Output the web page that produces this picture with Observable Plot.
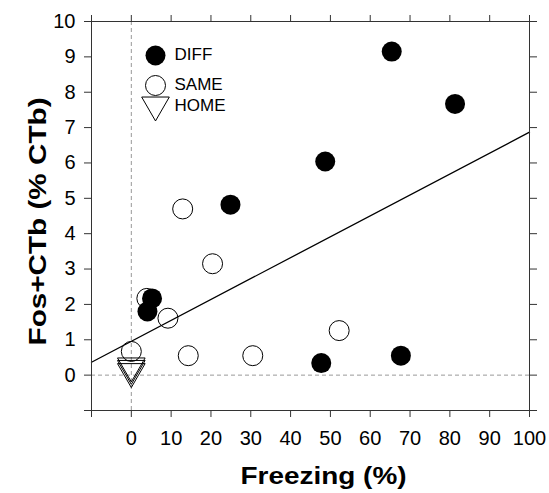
<!DOCTYPE html>
<html>
<head>
<meta charset="utf-8">
<script src="https://cdn.jsdelivr.net/npm/d3@7"></script>
<script src="https://cdn.jsdelivr.net/npm/@observablehq/plot@0.6"></script>
<style>
  html, body { margin: 0; padding: 0; background: #fff; overflow: hidden; }
  #chart svg { display: block; }
</style>
</head>
<body>
<div id="chart"></div>
<script>
// ---- data ----
const diffX = [65.4, 81.3, 48.7, 24.9, 5.2, 4.05, 47.7, 67.7];
const diffY = [9.15, 7.67, 6.04, 4.82, 2.17, 1.80, 0.34, 0.55];
const sameX = [12.9, 20.4, 3.9, 9.2, 0, 14.3, 30.5, 52.2];
const sameY = [4.70, 3.15, 2.17, 1.61, 0.67, 0.55, 0.55, 1.26];
const homeX = [0, 0, 0];
const homeY = [0.26, 0.19, 0.10];
const fitX = [-10, 100];
const fitY = [0.365, 6.87];
const xTicks = [-10, 0, 10, 20, 30, 40, 50, 60, 70, 80, 90, 100];
const xTickLabels = ["", "0", "10", "20", "30", "40", "50", "60", "70", "80", "90", "100"];
const yTicks = [-1, 0, 1, 2, 3, 4, 5, 6, 7, 8, 9, 10];
const yTickLabels = ["", "0", "1", "2", "3", "4", "5", "6", "7", "8", "9", "10"];
const legendLabels = ["DIFF", "SAME", "HOME"];
const xTitle = "Freezing (%)";
const yTitle = "Fos+CTb (% CTb)";

const pts = (xs, ys) => xs.map((x, i) => ({x, y: ys[i]}));
const diff = pts(diffX, diffY);
const same = pts(sameX, sameY);
const home = pts(homeX, homeY);
const fit = pts(fitX, fitY);

const R = 10;
const triR = 10.26;
const axisColor = "#333";

const legendDy = [34, 64, 83.5];
const legendMarks = [
  Plot.dot([0], {frameAnchor: "top-left", dx: 64, dy: legendDy[0], r: R, fill: "black", stroke: "none"}),
  Plot.dot([0], {frameAnchor: "top-left", dx: 64, dy: legendDy[1], r: R, fill: "none", stroke: "black", strokeWidth: 1}),
  Plot.dot([0], {frameAnchor: "top-left", dx: 64, dy: legendDy[2], r: triR, symbol: "triangle", rotate: 180, fill: "none", stroke: "black", strokeWidth: 1}),
  ...legendLabels.map((t, i) => Plot.text([t], {frameAnchor: "top-left", dx: 83, dy: [33, 63, 84][i], text: d => d, textAnchor: "start", lineAnchor: "middle", fontSize: 17, fill: "black"}))
];

const chart = Plot.plot({
  width: 549,
  height: 493,
  marginLeft: 91,
  marginRight: 20,
  marginTop: 21,
  marginBottom: 83,
  style: {fontFamily: "'Liberation Sans', Arial, Helvetica, sans-serif", background: "#fff", color: "black"},
  x: {domain: [-10, 100]},
  y: {domain: [-1, 10]},
  marks: [
    Plot.ruleX([0], {stroke: "#999", strokeDasharray: "4,3", strokeWidth: 1}),
    Plot.ruleY([0], {stroke: "#999", strokeDasharray: "4,3", strokeWidth: 1}),
    Plot.line(fit, {x: "x", y: "y", stroke: "black", strokeWidth: 1.3}),
    Plot.dot(same, {x: "x", y: "y", r: R, fill: "none", stroke: "black", strokeWidth: 1}),
    Plot.dot(home, {x: "x", y: "y", r: triR, symbol: "triangle", rotate: 180, fill: "none", stroke: "black", strokeWidth: 1}),
    Plot.dot(diff, {x: "x", y: "y", r: R, fill: "black", stroke: "none"}),
    Plot.frame({stroke: axisColor, strokeWidth: 1}),
    Plot.axisX({anchor: "bottom", ticks: xTicks, tickFormat: d => xTickLabels[xTicks.indexOf(d)], tickSize: 7, tickPadding: 13, fontSize: 20, label: null, stroke: axisColor, fill: "black"}),
    Plot.axisX({anchor: "top", ticks: xTicks, tickFormat: () => "", tickSize: 7, label: null, stroke: axisColor}),
    Plot.axisY({anchor: "left", ticks: yTicks, tickFormat: d => yTickLabels[yTicks.indexOf(d)], tickSize: 7, tickPadding: 9, fontSize: 20, label: null, stroke: axisColor, fill: "black"}),
    Plot.axisY({anchor: "right", ticks: yTicks, tickFormat: () => "", tickSize: 7, label: null, stroke: axisColor}),
    Plot.text([xTitle], {frameAnchor: "bottom", dx: 13, dy: 73.5, text: d => d, textAnchor: "middle", lineAnchor: "bottom", fontSize: 24, fontWeight: "bold", fill: "black"}),
    Plot.text([yTitle], {frameAnchor: "left", dx: -46, dy: 5.5, rotate: -90, text: d => d, textAnchor: "middle", lineAnchor: "bottom", fontSize: 24, fontWeight: "bold", fill: "black"}),
    ...legendMarks
  ]
});

d3.select(chart).selectAll("text")
  .filter(function() { return this.textContent === xTitle; })
  .attr("textLength", 166).attr("lengthAdjust", "spacingAndGlyphs");
d3.select(chart).selectAll("text")
  .filter(function() { return this.textContent === yTitle; })
  .attr("textLength", 248).attr("lengthAdjust", "spacingAndGlyphs");

document.getElementById("chart").appendChild(chart);
</script>
</body>
</html>
